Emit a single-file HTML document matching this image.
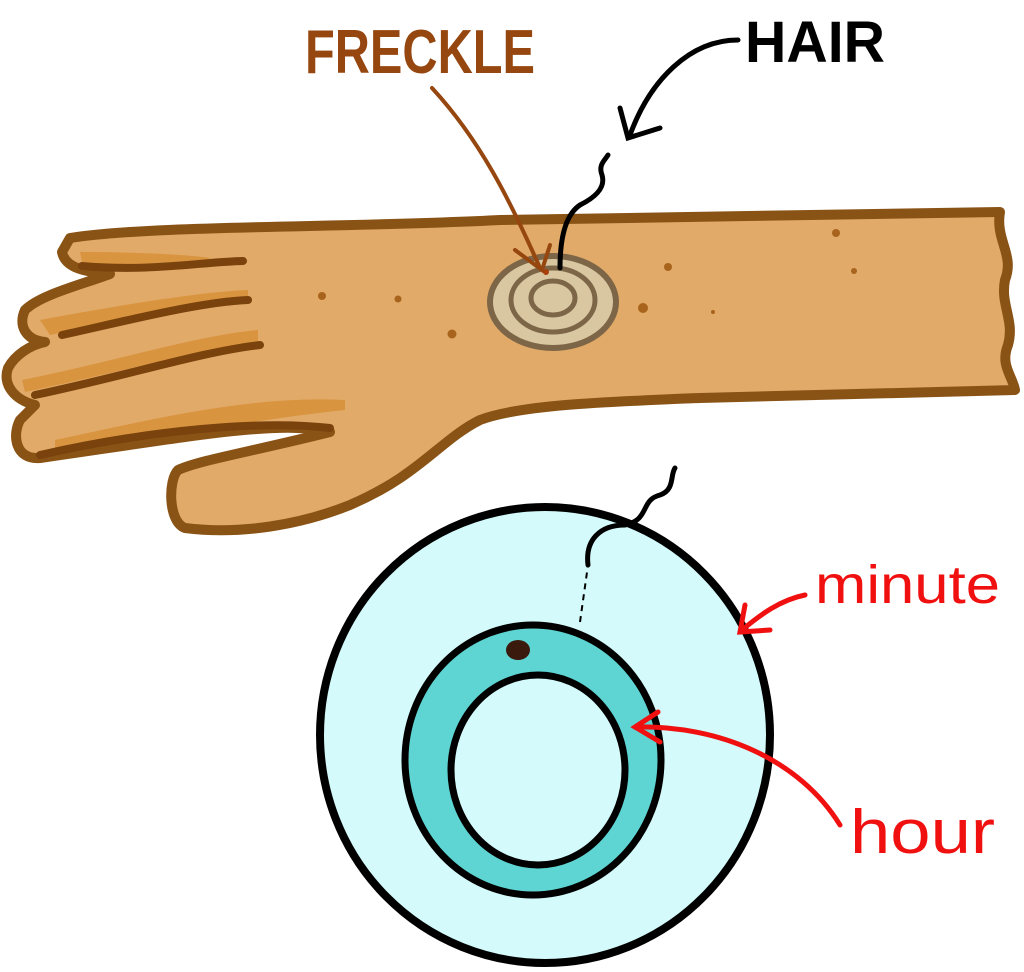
<!DOCTYPE html>
<html><head><meta charset="utf-8"><style>
html,body{margin:0;padding:0;background:#fff;}
svg{display:block;}
text{font-family:"Liberation Sans",sans-serif;}
</style></head><body>
<svg width="1024" height="972" viewBox="0 0 1024 972" xmlns="http://www.w3.org/2000/svg">
<path d="M70,238 C150,225 350,228 500,220 L1000,212 C995,240 1015,255 1005,280 C1000,305 1015,320 1008,345 C1000,365 1012,375 1015,390 L700,398 C600,402 520,405 480,420 C440,440 420,475 350,505 C300,525 240,535 185,528 C168,522 168,480 178,470 C200,460 250,452 330,432 C280,420 200,435 40,458 C15,460 12,435 20,420 L35,405 C15,400 2,385 8,368 C15,355 30,345 45,342 C25,340 18,325 25,310 C40,295 80,285 110,274 C85,272 65,268 62,252 Z" fill="#e1aa68" stroke="#8a5316" stroke-width="10" stroke-linejoin="round"/>
<g fill="#d8913a" opacity="0.85">
<path d="M80,252 C150,252 200,256 210,258 L200,266 C150,268 110,268 82,262 Z"/>
<path d="M40,320 C120,305 200,292 248,290 L248,300 C200,305 120,320 50,335 Z"/>
<path d="M22,380 C120,360 200,335 258,330 L258,342 C200,350 120,372 25,392 Z"/>
<path d="M55,440 C150,420 250,395 345,400 L345,410 C250,420 150,440 55,452 Z"/>
</g>
<g fill="none" stroke="#7a420c" stroke-width="8" stroke-linecap="round">
<path d="M82,266 C150,272 200,262 243,261"/>
<path d="M62,335 C130,320 200,302 248,300"/>
<path d="M35,395 C130,375 200,352 260,345"/>
<path d="M40,455 C150,430 260,420 330,428"/>
</g>
<g fill="#a8641c">
<circle cx="322" cy="296" r="4"/><circle cx="398" cy="299" r="3.5"/><circle cx="452" cy="334" r="4.5"/>
<circle cx="668" cy="267" r="4"/><circle cx="836" cy="233" r="4"/><circle cx="854" cy="271" r="3"/>
<circle cx="643" cy="308" r="5"/><circle cx="713" cy="312" r="2"/>
</g>
<ellipse cx="553" cy="302" rx="63" ry="46" fill="#d8c7a1" stroke="#7d6647" stroke-width="6"/>
<ellipse cx="553" cy="300" rx="42" ry="32" fill="none" stroke="#7d6647" stroke-width="5"/>
<ellipse cx="553" cy="298" rx="22" ry="17" fill="none" stroke="#7d6647" stroke-width="5"/>
<circle cx="546" cy="272" r="3" fill="#a8400c"/>
<path d="M560,268 C560,240 565,215 580,205 C600,195 605,185 602,175 C598,165 605,160 608,155" fill="none" stroke="#000" stroke-width="5" stroke-linecap="round"/>
<text x="745" y="62" font-size="58" font-weight="bold" fill="#000" textLength="140" lengthAdjust="spacingAndGlyphs">HAIR</text>
<path d="M738,40 C690,40 650,80 630,135" fill="none" stroke="#000" stroke-width="5" stroke-linecap="round"/>
<path d="M620,108 L628,138 L660,128" fill="none" stroke="#000" stroke-width="5" stroke-linecap="round"/>
<text x="305" y="73" font-size="62" font-weight="bold" fill="#96460f" textLength="230" lengthAdjust="spacingAndGlyphs">FRECKLE</text>
<path d="M432,88 C480,140 510,200 540,268" fill="none" stroke="#96460f" stroke-width="4" stroke-linecap="round"/>
<path d="M515,250 L542,270 L550,245" fill="none" stroke="#96460f" stroke-width="4" stroke-linecap="round"/>
<ellipse cx="545" cy="735" rx="225" ry="228" fill="#d4fafb" stroke="#000" stroke-width="8"/>
<ellipse cx="533" cy="760" rx="128" ry="135" fill="#5ed5d3" stroke="#000" stroke-width="7"/>
<ellipse cx="538" cy="770" rx="87" ry="95" fill="#d4fafb" stroke="#000" stroke-width="7"/>
<ellipse cx="518" cy="650" rx="12" ry="10" fill="#3a1a0c"/>
<path d="M580,622 L588,565" fill="none" stroke="#000" stroke-width="2" stroke-dasharray="6,5"/>
<path d="M588,565 C585,540 600,525 625,525 C650,520 640,500 660,495 C675,490 670,475 675,468" fill="none" stroke="#000" stroke-width="5" stroke-linecap="round"/>
<text x="815" y="603" font-size="54" fill="#f01010" textLength="185" lengthAdjust="spacingAndGlyphs">minute</text>
<path d="M805,595 C780,600 760,615 742,630" fill="none" stroke="#f01010" stroke-width="5" stroke-linecap="round"/>
<path d="M745,605 L740,632 L770,630" fill="none" stroke="#f01010" stroke-width="5" stroke-linecap="round"/>
<text x="850" y="853" font-size="62" fill="#f01010" textLength="145" lengthAdjust="spacingAndGlyphs">hour</text>
<path d="M840,825 C800,760 720,725 635,727" fill="none" stroke="#f01010" stroke-width="5" stroke-linecap="round"/>
<path d="M658,712 L635,727 L660,742" fill="none" stroke="#f01010" stroke-width="5" stroke-linecap="round"/>
</svg>
</body></html>
